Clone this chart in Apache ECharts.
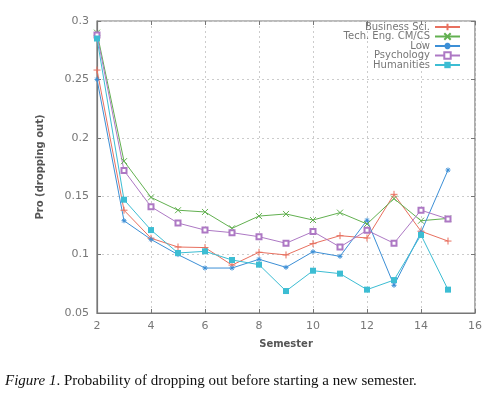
<!DOCTYPE html>
<html><head><meta charset="utf-8">
<script src="https://cdn.jsdelivr.net/npm/echarts@6/dist/echarts.min.js"></script>
<style>html,body{margin:0;padding:0;background:#fff}#c{width:498px;height:399px}</style>
</head><body><div id="c"></div>
<script>
const semesters = [2,3,4,5,6,7,8,9,10,11,12,13,14,15];
const businessSci = [0.258,0.138,0.114,0.1065,0.106,0.091,0.102,0.0997,0.1094,0.1162,0.1142,0.1516,0.120,0.1116];
const techEng     = [0.290,0.180,0.149,0.138,0.1365,0.1225,0.133,0.1348,0.1296,0.1359,0.1262,0.1479,0.129,0.131];
const low         = [0.250,0.129,0.113,0.100,0.0885,0.0885,0.096,0.0891,0.1025,0.0985,0.1294,0.0737,0.119,0.1724];
const psychology  = [0.288,0.172,0.141,0.127,0.121,0.1188,0.1153,0.1097,0.1197,0.1065,0.1208,0.1097,0.138,0.1305];
const humanities  = [0.285,0.147,0.121,0.1014,0.1028,0.0954,0.0914,0.0688,0.0862,0.0837,0.070,0.0782,0.1168,0.070];
const seriesNames = ['Business Sci.','Tech. Eng. CM/CS','Low','Psychology','Humanities'];
const yTicks = [0.05,0.1,0.15,0.2,0.25,0.3];
const xTicks = [2,4,6,8,10,12,14,16];

const colors = ['#e8705f','#62b050','#3c8fd6','#ad78c4','#3cbdd3'];
const plusPath = 'path://M0,-10L0,10M-10,0L10,0';
const crossPath = 'path://M-10,-10L10,10M-10,10L10,-10';
const starPath = 'path://M0,-10L0,10M-10,0L10,0M-7,-7L7,7M-7,7L7,-7';
const dataSets = [businessSci, techEng, low, psychology, humanities];
const symbols = [plusPath, crossPath, starPath, 'emptyRect', 'rect'];
const sizes = [7, 6, 5, 5, 6];

const chart = echarts.init(document.getElementById('c'), null, {renderer:'canvas'});
const font = 'DejaVu Sans';
const series = dataSets.map((d,i)=>({
  name: seriesNames[i], type:'line', xAxisIndex:0, yAxisIndex:0,
  data: semesters.map((s,j)=>[s,d[j]]),
  symbol: symbols[i], symbolSize: sizes[i], showSymbol:true,
  lineStyle:{color:colors[i], width:1},
  itemStyle: i===4 ? {color:colors[i], borderColor:colors[i], borderWidth:0}
            : i===3 ? {color:colors[i], borderColor:colors[i], borderWidth:1}
            : {color:'rgba(0,0,0,0)', borderColor:colors[i], borderWidth:1},
  emphasis:{disabled:true}, animation:false
}));

chart.setOption({
  animation:false,
  backgroundColor:'#fff',
  grid:{left:97,right:23,top:21,bottom:86,show:true,borderColor:'#777',borderWidth:1.2},
  legend:{
    data: seriesNames,
    orient:'vertical', right:32, top:17, align:'right', itemGap:-0.5,
    itemWidth:25, itemHeight:8, padding:[5,5],
    textStyle:{fontFamily:font, fontSize:10, color:'#777'},
    selectedMode:false
  },
  xAxis:[{
    type:'value', min:2, max:16, interval:2, position:'bottom',
    name:'Semester', nameLocation:'middle', nameGap:26,
    nameTextStyle:{fontFamily:font, fontSize:10, fontWeight:'bold', color:'#555'},
    axisLine:{show:true, lineStyle:{color:'#777', width:1.2}},
    axisTick:{show:true, inside:true, length:4, lineStyle:{color:'#777'}},
    axisLabel:{fontFamily:font, fontSize:11, color:'#777', margin:8},
    splitLine:{show:true, lineStyle:{color:'#ccc', type:[2,3], width:1}}
  },{
    type:'value', min:2, max:16, interval:2, position:'top',
    axisLine:{show:false}, axisTick:{show:true, inside:true, length:4, lineStyle:{color:'#777'}},
    axisLabel:{show:false}, splitLine:{show:false}
  }],
  yAxis:[{
    type:'value', min:0.05, max:0.3, interval:0.05, position:'left',
    name:'Pro (dropping out)', nameLocation:'middle', nameGap:52, nameRotate:90,
    nameTextStyle:{fontFamily:font, fontSize:10, fontWeight:'bold', color:'#555'},
    axisLine:{show:true, lineStyle:{color:'#777', width:1.2}},
    axisTick:{show:true, inside:true, length:4, lineStyle:{color:'#777'}},
    axisLabel:{fontFamily:font, fontSize:11, color:'#777', margin:8,
      formatter:v=>String(+v.toFixed(2))},
    splitLine:{show:true, lineStyle:{color:'#ccc', type:[2,3], width:1}}
  },{
    type:'value', min:0.05, max:0.3, interval:0.05, position:'right',
    axisLine:{show:false}, axisTick:{show:true, inside:true, length:4, lineStyle:{color:'#777'}},
    axisLabel:{show:false}, splitLine:{show:false}
  }],
  series: series,
  graphic:[{
    type:'text', left:5, top:374,
    style:{
      text:'{i|Figure 1}. Probability of dropping out before starting a new semester.',
      font:'15px "Liberation Serif"', fill:'#111',
      rich:{i:{fontStyle:'italic', fontFamily:'Liberation Serif', fontSize:15, fill:'#111'}}
    }
  }]
});
</script></body></html>
